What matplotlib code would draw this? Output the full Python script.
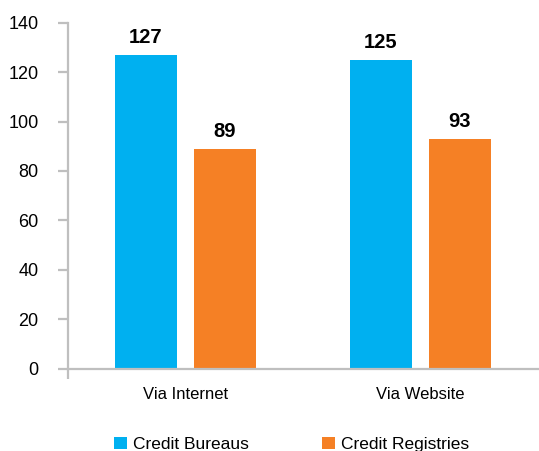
import matplotlib
matplotlib.use("Agg")
import matplotlib.pyplot as plt
from matplotlib.patches import Patch
import numpy as np

plt.rcParams['font.family'] = ['Liberation Sans', 'DejaVu Sans']

categories = ["Via Internet", "Via Website"]
series_names = ["Credit Bureaus", "Credit Registries"]
bureaus = [127, 125]
registries = [89, 93]
colors = ["#00B0F0", "#F58025"]

fig = plt.figure(figsize=(5.39, 4.51), dpi=100)
ax = fig.add_axes([0.126, 0.182, 0.872, 0.768])

x = np.arange(len(categories))
width = 0.264
offset = 0.168
for vals, dx, c in [(bureaus, -offset, colors[0]), (registries, offset, colors[1])]:
    bars = ax.bar(x + dx, vals, width, color=c)
    for b, v in zip(bars, vals):
        ax.text(b.get_x() + b.get_width() / 2, v + 3, f"{v}", ha="center", va="bottom",
                fontsize=14.5, fontweight="bold", color="#000000")

ax.set_xlim(-0.5, 1.5)
ax.set_ylim(0, 140)
ax.set_yticks(range(0, 141, 20))
ax.set_xticks(x)
ax.set_xticklabels(categories)
ax.set_xticks([-0.5], minor=True)

spine_col = "#BFBFBF"
for s in ["top", "right"]:
    ax.spines[s].set_visible(False)
for s in ["left", "bottom"]:
    ax.spines[s].set_color(spine_col)
    ax.spines[s].set_linewidth(1.6)

ax.tick_params(axis="y", direction="out", length=7, width=1.6, color=spine_col,
               labelsize=13, pad=14, labelcolor="#000000")
ax.tick_params(axis="x", which="major", length=0, labelsize=12, pad=13, labelcolor="#000000")
ax.tick_params(axis="x", which="minor", direction="out", length=7, width=1.6, color=spine_col)

handles = [Patch(facecolor=c, edgecolor="none") for c in colors]
fig.legend(handles, series_names, loc="lower left", bbox_to_anchor=(0.183, -0.037),
           ncol=2, frameon=False, fontsize=12.5, handlelength=0.75, handleheight=0.7,
           handletextpad=0.35, columnspacing=4.2)

fig.savefig("out.png", dpi=100)
